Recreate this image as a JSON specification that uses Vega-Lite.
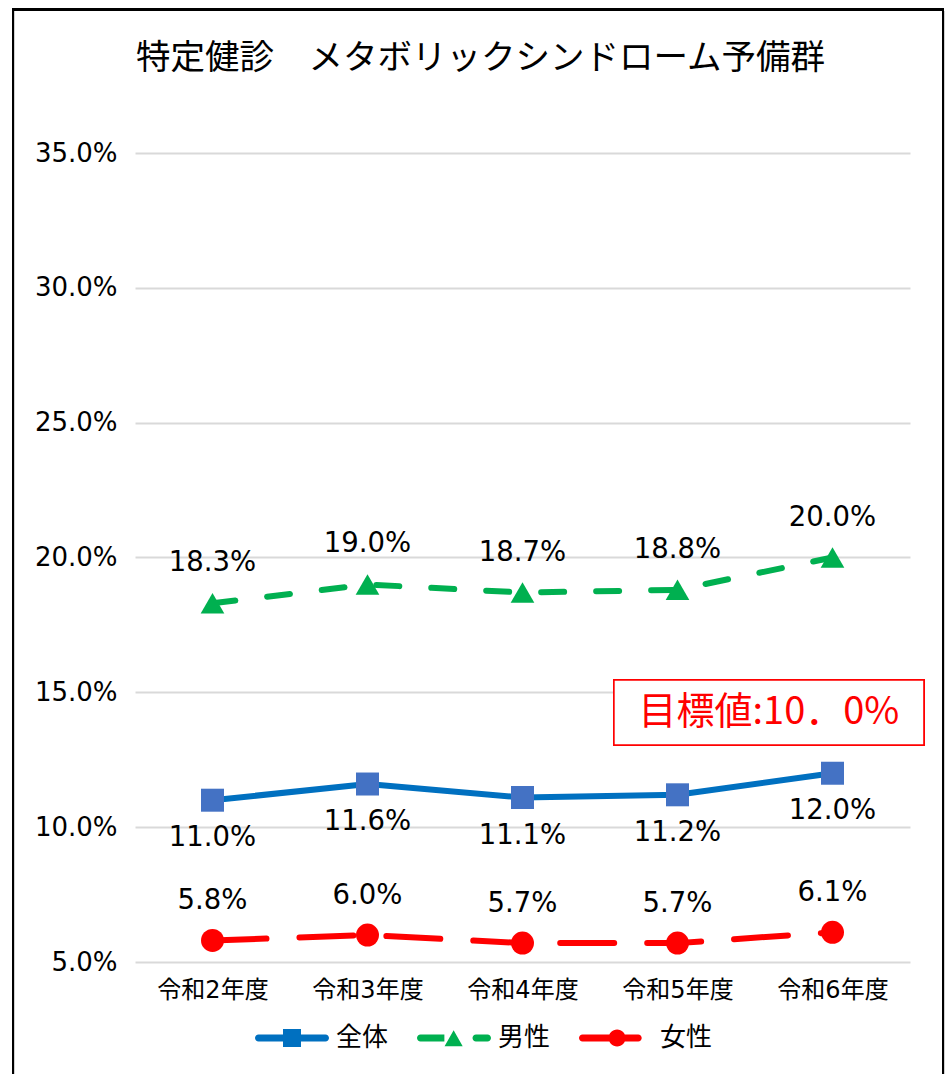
{
  "$schema": "https://vega.github.io/schema/vega-lite/v6.json",
  "width": 775,
  "height": 809,
  "autosize": {"type": "none"},
  "padding": {"left": 135, "top": 153, "right": 38, "bottom": 112},
  "background": "white",
  "config": {"view": {"stroke": null}},
  "title": {
    "text": "特定健診　メタボリックシンドローム予備群",
    "font": "Noto Sans CJK JP",
    "fontSize": 34.5,
    "fontWeight": "normal",
    "color": "#000000",
    "anchor": "middle",
    "frame": "group",
    "dx": -42,
    "offset": -68
  },
  "data": {
    "values": [
      {"idx": 0, "year": "令和2年度", "series": "全体", "value": 0.110},
      {"idx": 1, "year": "令和3年度", "series": "全体", "value": 0.116},
      {"idx": 2, "year": "令和4年度", "series": "全体", "value": 0.111},
      {"idx": 3, "year": "令和5年度", "series": "全体", "value": 0.112},
      {"idx": 4, "year": "令和6年度", "series": "全体", "value": 0.120},
      {"idx": 0, "year": "令和2年度", "series": "男性", "value": 0.183},
      {"idx": 1, "year": "令和3年度", "series": "男性", "value": 0.190},
      {"idx": 2, "year": "令和4年度", "series": "男性", "value": 0.187},
      {"idx": 3, "year": "令和5年度", "series": "男性", "value": 0.188},
      {"idx": 4, "year": "令和6年度", "series": "男性", "value": 0.200},
      {"idx": 0, "year": "令和2年度", "series": "女性", "value": 0.058},
      {"idx": 1, "year": "令和3年度", "series": "女性", "value": 0.060},
      {"idx": 2, "year": "令和4年度", "series": "女性", "value": 0.057},
      {"idx": 3, "year": "令和5年度", "series": "女性", "value": 0.057},
      {"idx": 4, "year": "令和6年度", "series": "女性", "value": 0.061}
    ]
  },
  "encoding": {
    "x": {
      "field": "idx",
      "type": "quantitative",
      "scale": {"domain": [-0.5, 4.5], "nice": false, "zero": false},
      "axis": {
        "values": [0, 1, 2, 3, 4],
        "labelExpr": "['令和2年度','令和3年度','令和4年度','令和5年度','令和6年度'][datum.value]",
        "title": null,
        "grid": false,
        "ticks": false,
        "domain": false,
        "labelFont": "DejaVu Sans, Noto Sans CJK JP",
        "labelFontSize": 24,
        "labelColor": "#000000",
        "labelPadding": 16
      }
    },
    "y": {
      "field": "value",
      "type": "quantitative",
      "scale": {"domain": [0.05, 0.35], "nice": false, "zero": false},
      "axis": {
        "values": [0.05, 0.10, 0.15, 0.20, 0.25, 0.30, 0.35],
        "format": ".1%",
        "title": null,
        "ticks": false,
        "domain": false,
        "grid": true,
        "gridColor": "#d9d9d9",
        "gridWidth": 2,
        "labelFont": "DejaVu Sans",
        "labelFontSize": 26,
        "labelColor": "#000000",
        "labelPadding": 18
      }
    }
  },
  "layer": [
    {
      "mark": {"type": "rect", "fill": null, "stroke": "#000000", "strokeWidth": 2},
      "encoding": {
        "x": {"datum": -1.287, "type": "quantitative"},
        "x2": {"datum": 4.713},
        "y": {"datum": 0.4032, "type": "quantitative"},
        "y2": {"datum": 0.0}
      }
    },
    {
      "transform": [{"filter": "datum.series === '全体'"}],
      "mark": {"type": "line", "strokeWidth": 6, "strokeCap": "round", "strokeJoin": "round", "color": "#0070C0"}
    },
    {
      "transform": [{"filter": "datum.series === '男性'"}],
      "mark": {"type": "line", "strokeWidth": 6, "strokeCap": "round", "strokeJoin": "round", "color": "#00B050", "strokeDash": [23, 32]}
    },
    {
      "transform": [{"filter": "datum.series === '女性'"}],
      "mark": {"type": "line", "strokeWidth": 6, "strokeCap": "round", "strokeJoin": "round", "color": "#FF0000", "strokeDash": [54, 33]}
    },
    {
      "transform": [{"filter": "datum.series === '全体'"}],
      "mark": {"type": "point", "shape": "square", "filled": true, "size": 529, "color": "#4472C4", "opacity": 1}
    },
    {
      "transform": [{"filter": "datum.series === '男性'"}],
      "mark": {"type": "point", "shape": "triangle-up", "filled": true, "size": 560, "color": "#00B050", "opacity": 1}
    },
    {
      "transform": [{"filter": "datum.series === '女性'"}],
      "mark": {"type": "point", "shape": "circle", "filled": true, "size": 529, "color": "#FF0000", "opacity": 1}
    },
    {
      "transform": [{"filter": "datum.series === '全体'"}],
      "mark": {"type": "text", "font": "DejaVu Sans", "fontSize": 27.5, "color": "#000000", "align": "center", "baseline": "middle", "dy": 38},
      "encoding": {"text": {"field": "value", "type": "quantitative", "format": ".1%"}}
    },
    {
      "transform": [{"filter": "datum.series === '男性'"}],
      "mark": {"type": "text", "font": "DejaVu Sans", "fontSize": 27.5, "color": "#000000", "align": "center", "baseline": "middle", "dy": -40},
      "encoding": {"text": {"field": "value", "type": "quantitative", "format": ".1%"}}
    },
    {
      "transform": [{"filter": "datum.series === '女性'"}],
      "mark": {"type": "text", "font": "DejaVu Sans", "fontSize": 27.5, "color": "#000000", "align": "center", "baseline": "middle", "dy": -39},
      "encoding": {"text": {"field": "value", "type": "quantitative", "format": ".1%"}}
    },
    {
      "mark": {"type": "rect", "fill": "#ffffff", "stroke": "#FF0000", "strokeWidth": 1.5},
      "encoding": {
        "x": {"datum": 2.59, "type": "quantitative"},
        "x2": {"datum": 4.59},
        "y": {"datum": 0.1546, "type": "quantitative"},
        "y2": {"datum": 0.1305}
      }
    },
    {
      "data": {"values": [{"label": "目標値:10．0%", "idx": 3.59, "value": 0.1423}]},
      "mark": {"type": "text", "font": "Noto Sans CJK JP", "fontSize": 38, "color": "#FF0000", "align": "center", "baseline": "middle"},
      "encoding": {"text": {"field": "label", "type": "nominal"}}
    },
    {
      "transform": [{"filter": "datum.idx === 0"}],
      "mark": {"type": "point", "filled": true, "opacity": 0},
      "encoding": {
        "shape": {
          "field": "series",
          "type": "nominal",
          "scale": {
            "domain": ["全体", "男性", "女性"],
            "range": [
              "M-0.905,-0.095H0.905A0.095,0.095 0 0 1 0.905,0.095H-0.905A0.095,0.095 0 0 1 -0.905,-0.095Z M-0.243,-0.243H0.243V0.243H-0.243Z",
              "M-0.905,-0.095H-0.26V0.095H-0.905A0.095,0.095 0 0 1 -0.905,-0.095Z M0.595,-0.095H0.905A0.095,0.095 0 0 1 0.905,0.095H0.595A0.095,0.095 0 0 1 0.595,-0.095Z M-0.01,-0.21L0.235,0.225H-0.255Z",
              "M-0.905,-0.095H0.6A0.095,0.095 0 0 1 0.6,0.095H-0.905A0.095,0.095 0 0 1 -0.905,-0.095Z M-0.2,0A0.23,0.23 0 1 1 0.26,0A0.23,0.23 0 1 1 -0.2,0Z"
            ]
          },
          "legend": {
            "title": null,
            "orient": "none",
            "legendX": 120,
            "legendY": 848,
            "direction": "horizontal",
            "columns": 3,
            "symbolSize": 5476,
            "symbolStrokeWidth": 0,
            "symbolOpacity": 1,
            "labelFont": "Noto Sans CJK JP",
            "labelFontSize": 26,
            "labelColor": "#000000",
            "labelOffset": 7,
            "columnPadding": 28,
            "padding": 0
          }
        },
        "fill": {
          "field": "series",
          "type": "nominal",
          "scale": {"domain": ["全体", "男性", "女性"], "range": ["#0070C0", "#00B050", "#FF0000"]},
          "legend": {
            "title": null,
            "orient": "none",
            "legendX": 120,
            "legendY": 848,
            "direction": "horizontal",
            "columns": 3,
            "symbolSize": 5476,
            "symbolStrokeWidth": 0,
            "symbolOpacity": 1,
            "labelFont": "Noto Sans CJK JP",
            "labelFontSize": 26,
            "labelColor": "#000000",
            "labelOffset": 7,
            "columnPadding": 28,
            "padding": 0
          }
        }
      }
    }
  ]
}
